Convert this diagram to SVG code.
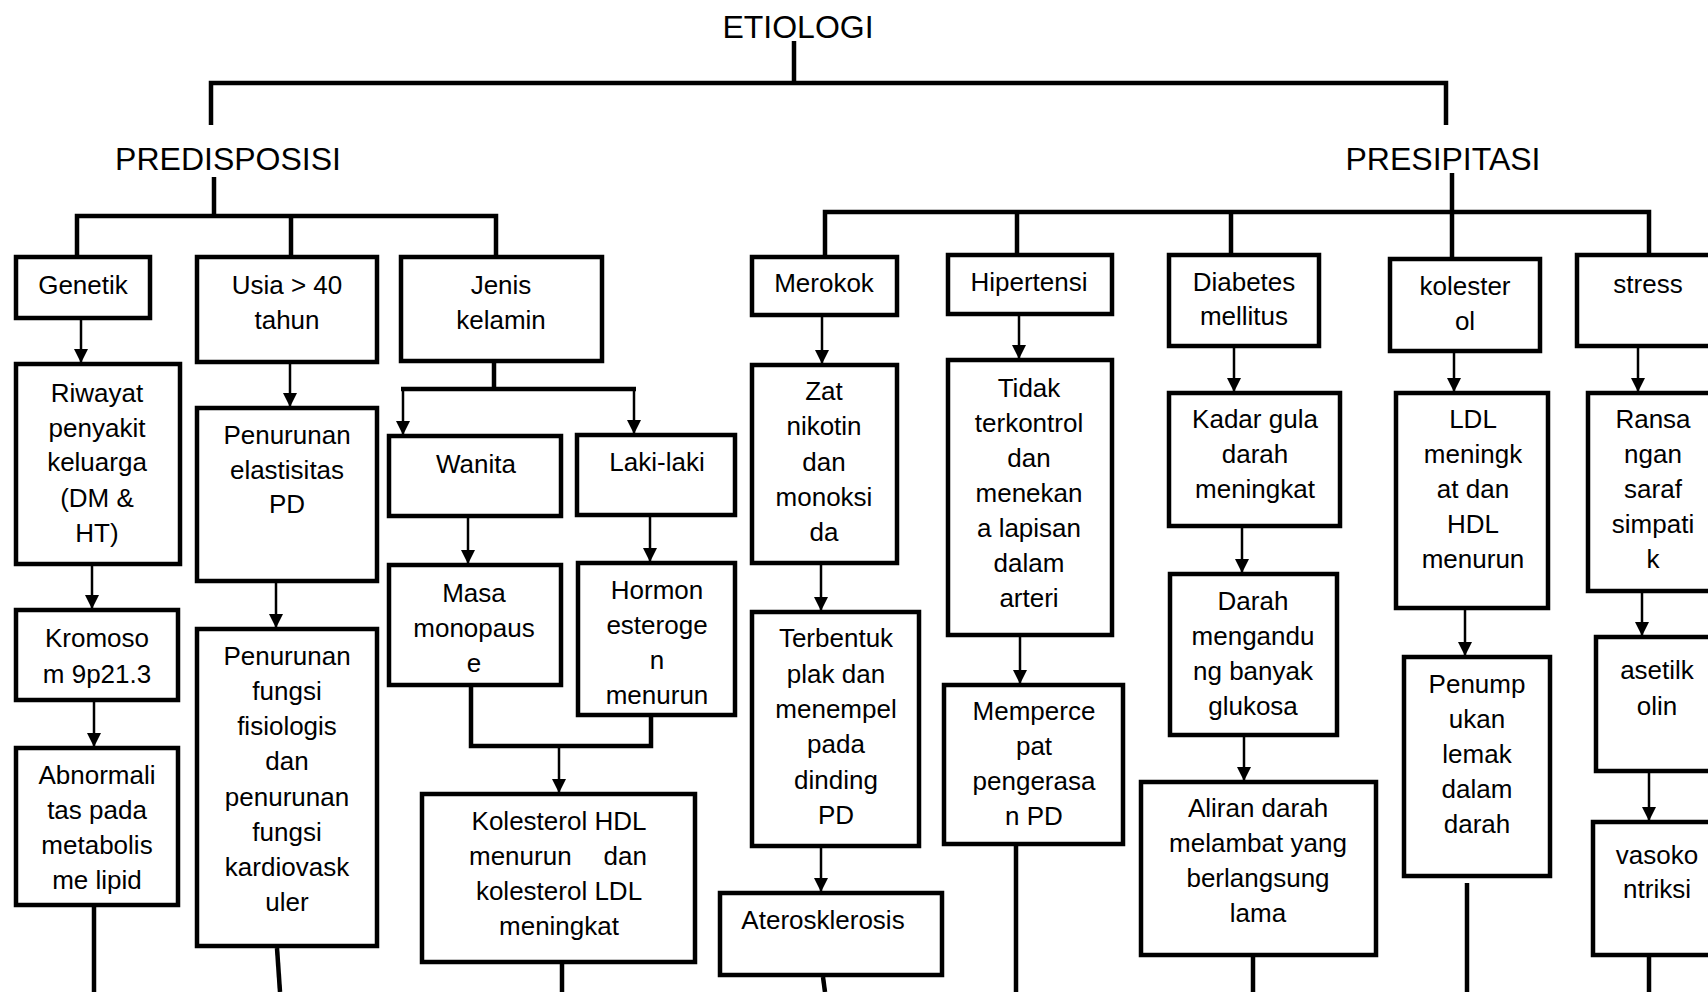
<svg xmlns="http://www.w3.org/2000/svg" width="1708" height="992" viewBox="0 0 1708 992">
<style>
.b{fill:#fff;stroke:#000;stroke-width:4.5}
.t{font-family:"Liberation Sans",Arial,sans-serif;font-size:26px;fill:#000;text-anchor:middle}
.h{font-family:"Liberation Sans",Arial,sans-serif;font-size:32px;fill:#000;text-anchor:middle}
.k{fill:none;stroke:#000;stroke-width:4.5}
.a{fill:none;stroke:#000;stroke-width:2.5;marker-end:url(#ah)}
</style>
<defs>
<marker id="ah" markerWidth="14" markerHeight="14" refX="13" refY="7" orient="auto" markerUnits="userSpaceOnUse"><path d="M0,0 L14,7 L0,14 z" fill="#000"/></marker>
</defs>
<rect width="1708" height="992" fill="#fff"/>
<g id="connectors">
<path class="k" d="M794,41 V83"/>
<path class="k" d="M211,125 V83 H1446 V125"/>
<path class="k" d="M214,177 V216"/>
<path class="k" d="M77,257 V216 H496 V257"/>
<path class="k" d="M291,216 V257"/>
<path class="k" d="M1452,173 V257"/>
<path class="k" d="M825,255 V212 H1649 V253"/>
<path class="k" d="M1017,212 V253"/>
<path class="k" d="M1231,212 V253"/>
<path class="k" d="M494,363 V389"/>
<path class="k" d="M401,389 H636"/>
<path class="k" d="M471,687 V746 H651 V717"/>
<path class="a" d="M81,320 V362"/>
<path class="a" d="M290,364 V406"/>
<path class="a" d="M403,389 V434"/>
<path class="a" d="M634,389 V433"/>
<path class="a" d="M92,566 V608"/>
<path class="a" d="M468,518 V563"/>
<path class="a" d="M650,517 V561"/>
<path class="a" d="M276,583 V627"/>
<path class="a" d="M94,702 V746"/>
<path class="a" d="M559,746 V792"/>
<path class="a" d="M822,317 V363"/>
<path class="a" d="M821,565 V610"/>
<path class="a" d="M821,848 V891"/>
<path class="a" d="M1019,316 V358"/>
<path class="a" d="M1020,637 V683"/>
<path class="a" d="M1234,348 V391"/>
<path class="a" d="M1242,528 V572"/>
<path class="a" d="M1244,737 V780"/>
<path class="a" d="M1454,353 V391"/>
<path class="a" d="M1465,610 V655"/>
<path class="a" d="M1638,348 V391"/>
<path class="a" d="M1642,593 V635"/>
<path class="a" d="M1649,773 V820"/>
<path class="k" d="M94,907 V992"/>
<path class="k" d="M277,948 L280,992"/>
<path class="k" d="M562,964 V992"/>
<path class="k" d="M823,977 L825,992"/>
<path class="k" d="M1016,846 V992"/>
<path class="k" d="M1253,957 V992"/>
<path class="k" d="M1467,883 V992"/>
<path class="k" d="M1649,957 V992"/>
</g>
<g id="etiologi"><text class="h" x="798" y="38">ETIOLOGI</text></g>
<g id="predisposisi"><text class="h" x="228" y="170">PREDISPOSISI</text></g>
<g id="presipitasi"><text class="h" x="1443" y="170">PRESIPITASI</text></g>
<g id="genetik"><rect class="b" x="16" y="257" width="134" height="61"/><text class="t" x="83" y="294">Genetik</text></g>
<g id="usia"><rect class="b" x="197" y="257" width="180" height="105"/><text class="t" x="287" y="294">Usia &gt; 40</text><text class="t" x="287" y="329">tahun</text></g>
<g id="jenis"><rect class="b" x="401" y="257" width="201" height="104"/><text class="t" x="501" y="294">Jenis</text><text class="t" x="501" y="329">kelamin</text></g>
<g id="riwayat"><rect class="b" x="16" y="364" width="164" height="200"/><text class="t" x="97" y="402">Riwayat</text><text class="t" x="97" y="437">penyakit</text><text class="t" x="97" y="471">keluarga</text><text class="t" x="97" y="507">(DM &amp;</text><text class="t" x="97" y="542">HT)</text></g>
<g id="elastisitas"><rect class="b" x="197" y="408" width="180" height="173"/><text class="t" x="287" y="444">Penurunan</text><text class="t" x="287" y="479">elastisitas</text><text class="t" x="287" y="513">PD</text></g>
<g id="wanita"><rect class="b" x="389" y="436" width="172" height="80"/><text class="t" x="476" y="473">Wanita</text></g>
<g id="lakilaki"><rect class="b" x="577" y="435" width="158" height="80"/><text class="t" x="657" y="471">Laki-laki</text></g>
<g id="masa"><rect class="b" x="389" y="565" width="172" height="120"/><text class="t" x="474" y="602">Masa</text><text class="t" x="474" y="637">monopaus</text><text class="t" x="474" y="672">e</text></g>
<g id="hormon"><rect class="b" x="578" y="563" width="157" height="152"/><text class="t" x="657" y="599">Hormon</text><text class="t" x="657" y="634">esteroge</text><text class="t" x="657" y="669">n</text><text class="t" x="657" y="704">menurun</text></g>
<g id="kromosom"><rect class="b" x="16" y="610" width="162" height="90"/><text class="t" x="97" y="647">Kromoso</text><text class="t" x="97" y="683">m 9p21.3</text></g>
<g id="abnormalitas"><rect class="b" x="16" y="748" width="162" height="157"/><text class="t" x="97" y="784">Abnormali</text><text class="t" x="97" y="819">tas pada</text><text class="t" x="97" y="854">metabolis</text><text class="t" x="97" y="889">me lipid</text></g>
<g id="fungsi"><rect class="b" x="197" y="629" width="180" height="317"/><text class="t" x="287" y="665">Penurunan</text><text class="t" x="287" y="700">fungsi</text><text class="t" x="287" y="735">fisiologis</text><text class="t" x="287" y="770">dan</text><text class="t" x="287" y="806">penurunan</text><text class="t" x="287" y="841">fungsi</text><text class="t" x="287" y="876">kardiovask</text><text class="t" x="287" y="911">uler</text></g>
<g id="kolesterolhdl"><rect class="b" x="422" y="794" width="273" height="168"/><text class="t" x="559" y="830">Kolesterol HDL</text><text class="t" x="469" y="865" style="text-anchor:start">menurun</text><text class="t" x="647" y="865" style="text-anchor:end">dan</text><text class="t" x="559" y="900">kolesterol LDL</text><text class="t" x="559" y="935">meningkat</text></g>
<g id="merokok"><rect class="b" x="752" y="257" width="145" height="58"/><text class="t" x="824" y="292">Merokok</text></g>
<g id="zat"><rect class="b" x="752" y="365" width="145" height="198"/><text class="t" x="824" y="400">Zat</text><text class="t" x="824" y="435">nikotin</text><text class="t" x="824" y="471">dan</text><text class="t" x="824" y="506">monoksi</text><text class="t" x="824" y="541">da</text></g>
<g id="terbentuk"><rect class="b" x="752" y="612" width="167" height="234"/><text class="t" x="836" y="647">Terbentuk</text><text class="t" x="836" y="683">plak dan</text><text class="t" x="836" y="718">menempel</text><text class="t" x="836" y="753">pada</text><text class="t" x="836" y="789">dinding</text><text class="t" x="836" y="824">PD</text></g>
<g id="aterosklerosis"><rect class="b" x="720" y="893" width="222" height="82"/><text class="t" x="823" y="929">Aterosklerosis</text></g>
<g id="hipertensi"><rect class="b" x="948" y="255" width="164" height="59"/><text class="t" x="1029" y="291">Hipertensi</text></g>
<g id="tidak"><rect class="b" x="948" y="360" width="164" height="275"/><text class="t" x="1029" y="397">Tidak</text><text class="t" x="1029" y="432">terkontrol</text><text class="t" x="1029" y="467">dan</text><text class="t" x="1029" y="502">menekan</text><text class="t" x="1029" y="537">a lapisan</text><text class="t" x="1029" y="572">dalam</text><text class="t" x="1029" y="607">arteri</text></g>
<g id="mempercepat"><rect class="b" x="944" y="685" width="179" height="159"/><text class="t" x="1034" y="720">Memperce</text><text class="t" x="1034" y="755">pat</text><text class="t" x="1034" y="790">pengerasa</text><text class="t" x="1034" y="825">n PD</text></g>
<g id="diabetes"><rect class="b" x="1169" y="255" width="150" height="91"/><text class="t" x="1244" y="291">Diabetes</text><text class="t" x="1244" y="325">mellitus</text></g>
<g id="kadar"><rect class="b" x="1169" y="393" width="171" height="133"/><text class="t" x="1255" y="428">Kadar gula</text><text class="t" x="1255" y="463">darah</text><text class="t" x="1255" y="498">meningkat</text></g>
<g id="darah"><rect class="b" x="1170" y="574" width="167" height="161"/><text class="t" x="1253" y="610">Darah</text><text class="t" x="1253" y="645">mengandu</text><text class="t" x="1253" y="680">ng banyak</text><text class="t" x="1253" y="715">glukosa</text></g>
<g id="aliran"><rect class="b" x="1141" y="782" width="235" height="173"/><text class="t" x="1258" y="817">Aliran darah</text><text class="t" x="1258" y="852">melambat yang</text><text class="t" x="1258" y="887">berlangsung</text><text class="t" x="1258" y="922">lama</text></g>
<g id="kolesterol"><rect class="b" x="1390" y="259" width="150" height="92"/><text class="t" x="1465" y="295">kolester</text><text class="t" x="1465" y="330">ol</text></g>
<g id="ldl"><rect class="b" x="1396" y="393" width="152" height="215"/><text class="t" x="1473" y="428">LDL</text><text class="t" x="1473" y="463">meningk</text><text class="t" x="1473" y="498">at dan</text><text class="t" x="1473" y="533">HDL</text><text class="t" x="1473" y="568">menurun</text></g>
<g id="penumpukan"><rect class="b" x="1404" y="657" width="146" height="219"/><text class="t" x="1477" y="693">Penump</text><text class="t" x="1477" y="728">ukan</text><text class="t" x="1477" y="763">lemak</text><text class="t" x="1477" y="798">dalam</text><text class="t" x="1477" y="833">darah</text></g>
<g id="stress"><rect class="b" x="1577" y="255" width="150" height="91"/><text class="t" x="1648" y="293">stress</text></g>
<g id="ransangan"><rect class="b" x="1588" y="393" width="150" height="198"/><text class="t" x="1653" y="428">Ransa</text><text class="t" x="1653" y="463">ngan</text><text class="t" x="1653" y="498">saraf</text><text class="t" x="1653" y="533">simpati</text><text class="t" x="1653" y="568">k</text></g>
<g id="asetilkolin"><rect class="b" x="1596" y="637" width="150" height="134"/><text class="t" x="1657" y="679">asetilk</text><text class="t" x="1657" y="715">olin</text></g>
<g id="vasokontriksi"><rect class="b" x="1593" y="822" width="150" height="133"/><text class="t" x="1657" y="864">vasoko</text><text class="t" x="1657" y="898">ntriksi</text></g>
</svg>
